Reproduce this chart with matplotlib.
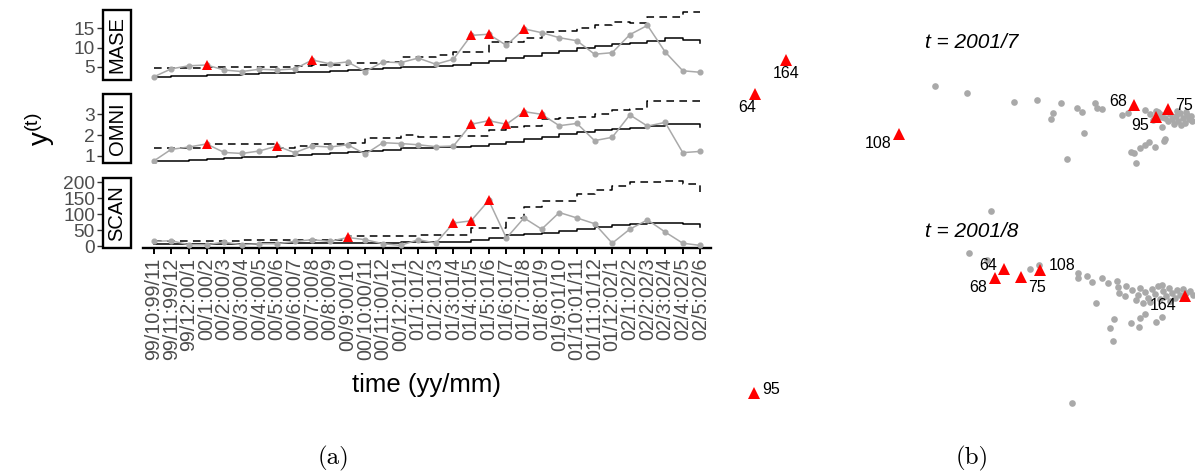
import matplotlib
matplotlib.use('Agg')
import matplotlib.pyplot as plt
from matplotlib.patches import Rectangle
import numpy as np

plt.rcParams['font.family'] = ['Liberation Sans', 'DejaVu Sans']

# ---- panel (a): monthly series ----
periods = ['99/10:99/11', '99/11:99/12', '99/12:00/1', '00/1:00/2', '00/2:00/3', '00/3:00/4',
           '00/4:00/5', '00/5:00/6', '00/6:00/7', '00/7:00/8', '00/8:00/9', '00/9:00/10',
           '00/10:00/11', '00/11:00/12', '00/12:01/1', '01/1:01/2', '01/2:01/3', '01/3:01/4',
           '01/4:01/5', '01/5:01/6', '01/6:01/7', '01/7:01/8', '01/8:01/9', '01/9:01/10',
           '01/10:01/11', '01/11:01/12', '01/12:02/1', '02/1:02/2', '02/2:02/3', '02/3:02/4',
           '02/4:02/5', '02/5:02/6']

mase_obs = [2.4, 4.5, 5.3, 5.5, 4.2, 3.8, 4.4, 4.2, 4.5, 6.8, 5.8, 6.3, 3.8, 6.3, 6.1, 7.3,
            5.7, 7.0, 13.2, 13.5, 10.6, 14.9, 13.9, 12.6, 11.8, 8.3, 8.7, 13.4, 15.8, 8.9, 4.0, 3.6]
mase_mean = [2.5, 2.6, 2.7, 2.8, 3.0, 3.1, 3.3, 3.4, 3.6, 3.8, 4.0, 4.2, 4.4, 4.6, 5.0, 5.1,
             5.3, 5.5, 5.9, 6.6, 7.2, 7.8, 8.5, 9.2, 10.0, 10.5, 10.9, 11.1, 11.7, 12.4, 12.1, 11.3]
mase_thr = [4.8, 4.8, 4.8, 4.9, 4.9, 4.9, 5.0, 5.0, 5.2, 5.5, 5.6, 5.9, 6.0, 6.3, 7.7, 7.7,
            8.1, 9.0, 9.0, 11.5, 11.5, 12.6, 14.1, 14.3, 15.0, 15.9, 16.7, 16.5, 18.0, 18.0, 19.3, 19.3]
mase_anom = [3, 9, 18, 19, 21]

omni_obs = [0.74, 1.31, 1.42, 1.57, 1.16, 1.11, 1.23, 1.47, 1.15, 1.47, 1.42, 1.53, 1.08, 1.63,
            1.59, 1.53, 1.44, 1.47, 2.52, 2.69, 2.52, 3.13, 3.0, 2.45, 2.56, 1.73, 1.89, 2.97,
            2.43, 2.61, 1.15, 1.21]
omni_mean = [0.75, 0.75, 0.80, 0.84, 0.88, 0.92, 0.96, 1.0, 1.05, 1.10, 1.15, 1.20, 1.25, 1.30,
             1.36, 1.36, 1.41, 1.44, 1.47, 1.55, 1.68, 1.79, 1.92, 2.04, 2.17, 2.25, 2.30, 2.36,
             2.43, 2.52, 2.52, 2.41]
omni_thr = [1.39, 1.39, 1.39, 1.57, 1.57, 1.57, 1.57, 1.39, 1.47, 1.57, 1.57, 1.62, 1.87, 1.87,
            2.0, 1.92, 1.92, 1.94, 1.94, 2.24, 2.4, 2.45, 2.76, 2.8, 2.88, 3.0, 3.2, 3.25,
            3.66, 3.66, 3.66, 3.66]
omni_anom = [3, 7, 18, 19, 20, 21, 22]

scan_obs = [15.6, 17.8, 5.3, 5, 13.5, 5, 8.4, 8.4, 15.6, 21, 15.6, 28, 21, 8.4, 3, 21,
            10.4, 73, 80, 144, 26, 89, 54, 106, 89, 71, 10, 54, 83, 45, 10, 3]
scan_mean = [8, 8, 8, 8.5, 9, 9, 9.5, 10, 10, 10.5, 11, 11, 11.5, 12, 12.5, 14,
             14, 14, 21, 26, 36, 39, 43, 49, 54, 62, 68, 71, 73, 74, 71, 60]
scan_thr = [18, 18, 18, 18, 18, 21, 21, 21, 21, 21, 21, 31, 31, 31, 31, 35,
            35, 35, 57, 57, 89, 122, 141, 142, 165, 177, 188, 200, 201, 206, 196, 170]
scan_anom = [11, 17, 18, 19]

# ---- panel (b): embeddings at two months ----
jul_x = [2.05, 2.37, 2.84, 3.07, 3.31, 3.23, 3.21, 3.47, 3.52, 3.65, 3.67, 3.72, 3.54, 3.37,
         3.92, 3.98, 4.15, 4.26, 4.32, 4.34, 4.35, 4.25, 4.19, 4.15, 4.10, 4.01, 4.04, 4.06,
         4.30, 4.35, 4.40, 4.42, 4.46, 4.48, 4.50, 4.53, 4.55, 4.57, 4.59, 4.61, 4.62, 4.44,
         4.38, 4.32, 4.51, 4.56, 4.47, 4.28, 4.20, 4.23]
jul_y = [1.14, 1.07, 0.98, 1.00, 0.97, 0.87, 0.81, 0.92, 0.88, 0.97, 0.92, 0.91, 0.67, 0.41,
         0.85, 0.87, 0.90, 0.89, 0.73, 0.59, 0.61, 0.53, 0.58, 0.55, 0.52, 0.48, 0.47, 0.37,
         0.86, 0.82, 0.86, 0.81, 0.84, 0.79, 0.87, 0.82, 0.77, 0.85, 0.81, 0.84, 0.79, 0.76,
         0.79, 0.83, 0.75, 0.88, 0.89, 0.88, 0.86, 0.80]
jul_ids = ['164', '64', '108', '68', '95', '75']
jul_hx = [0.56, 0.25, 1.69, 4.04, 4.26, 4.38]
jul_hy = [1.40, 1.06, 0.66, 0.95, 0.83, 0.91]

aug_x = [2.61, 2.39, 2.57, 3.00, 3.09, 3.48, 3.48, 3.57, 3.62, 3.72, 3.78, 3.87, 3.88, 3.89,
         3.96, 3.66, 3.84, 3.80, 3.83, 4.01, 4.09, 4.10, 4.15, 4.26, 4.32, 3.42, 4.13,
         4.02, 4.08, 4.10, 4.15, 4.18, 4.22, 4.25, 4.28, 4.30, 4.33, 4.36, 4.39, 4.42, 4.45,
         4.47, 4.50, 4.53, 4.56, 4.60, 4.63, 4.40, 4.20, 4.06, 3.95, 4.32]
aug_y = [2.09, 1.67, 1.60, 1.51, 1.55, 1.47, 1.42, 1.44, 1.38, 1.42, 1.37, 1.39, 1.33, 1.27,
         1.34, 1.17, 1.01, 0.92, 0.79, 0.97, 0.93, 1.02, 1.06, 0.98, 1.03, 0.17, 1.17,
         1.30, 1.25, 1.32, 1.28, 1.22, 1.31, 1.26, 1.34, 1.21, 1.29, 1.24, 1.32, 1.27, 1.22,
         1.30, 1.25, 1.31, 1.27, 1.29, 1.25, 1.19, 1.18, 1.20, 1.24, 1.35]
aug_ids = ['64', '68', '75', '108', '164', '95']
aug_hx = [2.74, 2.65, 2.91, 3.10, 4.55, 0.24]
aug_hy = [1.51, 1.42, 1.43, 1.50, 1.24, 0.27]

W, H = 1195, 472
fig = plt.figure(figsize=(W / 100, H / 100), dpi=100)


def px_axes(x0, y0, x1, y1):
    return fig.add_axes([x0 / W, 1 - y1 / H, (x1 - x0) / W, (y1 - y0) / H])


GRAY = '#A9A9A9'
xs = np.arange(len(periods))
facets = [
    ('MASE', mase_obs, mase_mean, mase_thr, mase_anom, (1.6, 19.8), [5, 10, 15], 10, 80),
    ('OMNI', omni_obs, omni_mean, omni_thr, omni_anom, (0.65, 3.98), [1, 2, 3], 94, 163),
    ('SCAN', scan_obs, scan_mean, scan_thr, scan_anom, (-5, 214), [0, 50, 100, 150, 200], 178, 248),
]
pw = 711 - 143
for k, (name, obs, mean, thr, anom, ylim, yt, top, bot) in enumerate(facets):
    ax = px_axes(143, top, 711, bot)
    ax.step(xs, thr, where='post', color='black', lw=1.1, ls=(0, (5, 3.5)))
    ax.step(xs, mean, where='post', color='black', lw=1.1)
    ax.plot(xs, obs, color=GRAY, lw=1.1, marker='o', ms=3.4, zorder=3)
    ax.plot(xs[anom], np.array(obs)[anom], '^', color='red', ms=6.5, mew=0, zorder=4)
    ax.set_xlim(-0.6, len(periods) - 0.4)
    ax.set_ylim(*ylim)
    ax.set_yticks(yt)
    for s in ['top', 'right']:
        ax.spines[s].set_visible(False)
    ax.spines['left'].set_position(('outward', 40 * 0.72))
    ax.spines['left'].set_visible(False)
    ax.tick_params(axis='y', length=4.3, width=1.0, color='#333333', labelsize=13.8,
                   labelcolor='#4D4D4D', pad=1.5)
    ax.add_patch(Rectangle((-40 / pw, 0), 28 / pw, 1, transform=ax.transAxes, clip_on=False,
                           fc='white', ec='black', lw=1.7, zorder=5))
    ax.text(-26 / pw, 0.5, name, rotation=90, transform=ax.transAxes, ha='center',
            va='center', fontsize=14.5, zorder=6)
    if k < 2:
        ax.spines['bottom'].set_visible(False)
        ax.set_xticks([])
    else:
        ax.spines['bottom'].set_linewidth(1.7)
        ax.set_xticks(xs)
        ax.set_xticklabels(periods, rotation=90, fontsize=14.2, color='#4D4D4D')
        ax.tick_params(axis='x', length=4.3, width=1.4, color='black', pad=2.5)
        ax.set_xlabel('time (yy/mm)', fontsize=18.5, labelpad=9)

fig.text(40 / W, 1 - 129 / H, r'$\mathregular{y^{(t)}}$', rotation=90, fontsize=20,
         ha='center', va='center')

# ---- panel (b) ----
# label offsets from the triangle, in pixels (right, up)
label_off = {
    'jul': [(0, -13), (-8, -13), (-21, -10), (-16, 3), (-16, -8), (16, 3)],
    'aug': [(-16, 4), (-17, -9), (16, -10), (22, 5), (-22, -9), (17, 3)],
}
for key, (x0, y0, x1, y1), gx, gy, ids, hx, hy, ttl, ty in [
        ('jul', (730, 0, 1195, 200), jul_x, jul_y, jul_ids, jul_hx, jul_hy, 't = 2001/7', 0.79),
        ('aug', (730, 200, 1195, 420), aug_x, aug_y, aug_ids, aug_hx, aug_hy, 't = 2001/8', 0.855)]:
    ax = px_axes(x0, y0, x1, y1)
    ax.set_xlim(0, 4.65)
    ax.set_ylim(0, (y1 - y0) / 100)
    ax.axis('off')
    ax.plot(gx, gy, 'o', color=GRAY, ms=4.8, mew=0, clip_on=False)
    ax.plot(hx, hy, '^', color='red', ms=9, mew=0, clip_on=False, zorder=4)
    for lab, x, y, (dx, dy) in zip(ids, hx, hy, label_off[key]):
        ax.annotate(lab, (x, y), xytext=(dx * 0.72, dy * 0.72), textcoords='offset points',
                    ha='center', va='center', fontsize=11.5, zorder=5)
    ax.text(0.52, ty, ttl, transform=ax.transAxes, ha='center', va='center',
            fontsize=15, style='italic')

fig.text(333 / W, 1 - 458 / H, '(a)', family='cmr10', fontsize=18, ha='center', va='center')
fig.text(972 / W, 1 - 458 / H, '(b)', family='cmr10', fontsize=18, ha='center', va='center')

fig.savefig('out.png', dpi=100)
